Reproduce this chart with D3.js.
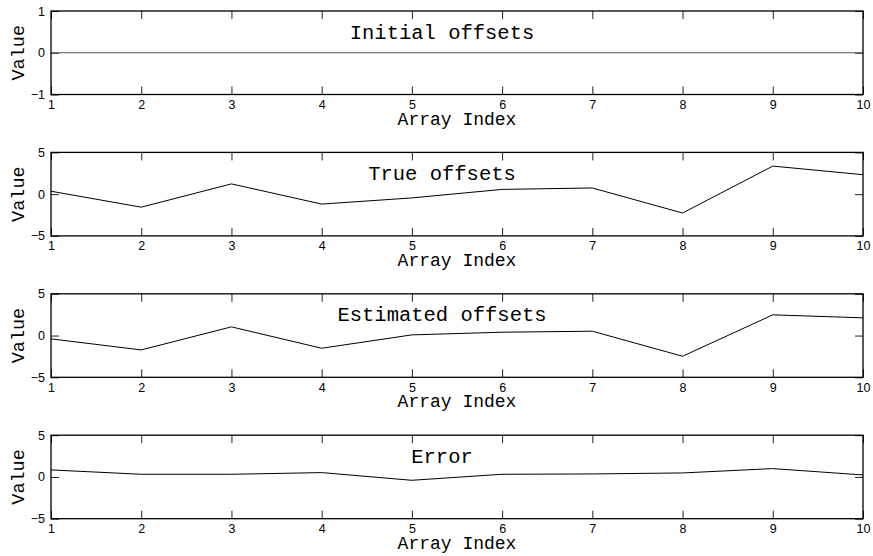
<!DOCTYPE html>
<html>
<head>
<meta charset="utf-8">
<script src="https://cdn.jsdelivr.net/npm/d3@7"></script>
<style>
  html, body { margin: 0; padding: 0; background: #fff; }
  svg { display: block; }
</style>
</head>
<body>
<svg id="chart" width="873" height="556"></svg>
<script>
// Array positions shared by every panel
const arrayIndex = [1, 2, 3, 4, 5, 6, 7, 8, 9, 10];

// Offset series, one per panel
const initialOffsets   = [0, 0, 0, 0, 0, 0, 0, 0, 0, 0];
const trueOffsets      = [0.35, -1.56, 1.23, -1.19, -0.45, 0.57, 0.74, -2.26, 3.36, 2.33];
const estimatedOffsets = [-0.40, -1.72, 1.04, -1.52, 0.08, 0.40, 0.52, -2.48, 2.48, 2.12];
const errorOffsets     = [0.84, 0.32, 0.32, 0.52, -0.40, 0.32, 0.36, 0.48, 1.00, 0.24];

// Panel titles and y-axis limits / ticks
const panelTitles = ["Initial offsets", "True offsets", "Estimated offsets", "Error"];
const yLimits = [[-1, 1], [-5, 5], [-5, 5], [-5, 5]];
const yTicks  = [[-1, 0, 1], [-5, 0, 5], [-5, 0, 5], [-5, 0, 5]];
const xTicks  = [1, 2, 3, 4, 5, 6, 7, 8, 9, 10];
const xLabel = "Array Index";
const yLabel = "Value";

const series = [initialOffsets, trueOffsets, estimatedOffsets, errorOffsets];
const lineColors = ["#555", "#000", "#000", "#000"];

const svg = d3.select("#chart");
const left = 51, right = 863;
const panelTop0 = 11, panelStep = 141.4, panelH = 83.5;
const tickLen = 8;
const titleX = 442;
const monoFont = "'Liberation Mono', 'Courier New', monospace";
const sansFont = "'Liberation Sans', Arial, Helvetica, sans-serif";

const x = d3.scaleLinear().domain([1, 10]).range([left, right]);
const fmt = d3.format("d");

series.forEach((vals, i) => {
  const top = panelTop0 + i * panelStep;
  const bottom = top + panelH;
  const y = d3.scaleLinear().domain(yLimits[i]).range([bottom, top]);
  const g = svg.append("g");

  // bottom axis with labels, ticks pointing inward
  const axB = g.append("g").attr("transform", `translate(0,${bottom})`)
    .call(d3.axisBottom(x).tickValues(xTicks).tickSizeInner(-tickLen).tickSizeOuter(0).tickPadding(5.5).tickFormat(fmt));
  // top axis, ticks only
  const axT = g.append("g").attr("transform", `translate(0,${top})`)
    .call(d3.axisTop(x).tickValues(xTicks).tickSizeInner(-tickLen).tickSizeOuter(0).tickFormat(""));
  // left axis with labels
  const axL = g.append("g").attr("transform", `translate(${left},0)`)
    .call(d3.axisLeft(y).tickValues(yTicks[i]).tickSizeInner(-tickLen).tickSizeOuter(0).tickPadding(6).tickFormat(fmt));
  // right axis, ticks only
  const axR = g.append("g").attr("transform", `translate(${right},0)`)
    .call(d3.axisRight(y).tickValues(yTicks[i]).tickSizeInner(-tickLen).tickSizeOuter(0).tickFormat(""));

  [axB, axT, axL, axR].forEach(ax => {
    ax.attr("font-family", sansFont).attr("font-size", 12.5);
    ax.select(".domain").remove();
    ax.selectAll(".tick line").attr("stroke", "#222").attr("stroke-width", 1);
    ax.selectAll(".tick text").attr("fill", "#000");
  });

  // data line
  const line = d3.line().x((d, k) => x(arrayIndex[k])).y(d => y(d));
  g.append("path").datum(vals)
    .attr("fill", "none")
    .attr("stroke", lineColors[i])
    .attr("stroke-width", 1)
    .attr("d", line);

  // frame
  g.append("rect")
    .attr("x", left).attr("y", top)
    .attr("width", right - left).attr("height", panelH)
    .attr("fill", "none").attr("stroke", "#000").attr("stroke-width", 1.3);

  // title inside the axes
  g.append("text")
    .attr("x", titleX).attr("y", top + 27.5)
    .attr("text-anchor", "middle")
    .attr("font-family", monoFont).attr("font-size", 20.5)
    .attr("fill", "#000")
    .text(panelTitles[i]);

  // x label
  g.append("text")
    .attr("x", (left + right) / 2).attr("y", bottom + 30)
    .attr("text-anchor", "middle")
    .attr("font-family", monoFont).attr("font-size", 18)
    .attr("fill", "#000")
    .text(xLabel);

  // y label
  g.append("text")
    .attr("transform", `translate(23.5,${(top + bottom) / 2}) rotate(-90)`)
    .attr("text-anchor", "middle")
    .attr("font-family", monoFont).attr("font-size", 18.5)
    .attr("fill", "#000")
    .text(yLabel);
});
</script>
</body>
</html>
